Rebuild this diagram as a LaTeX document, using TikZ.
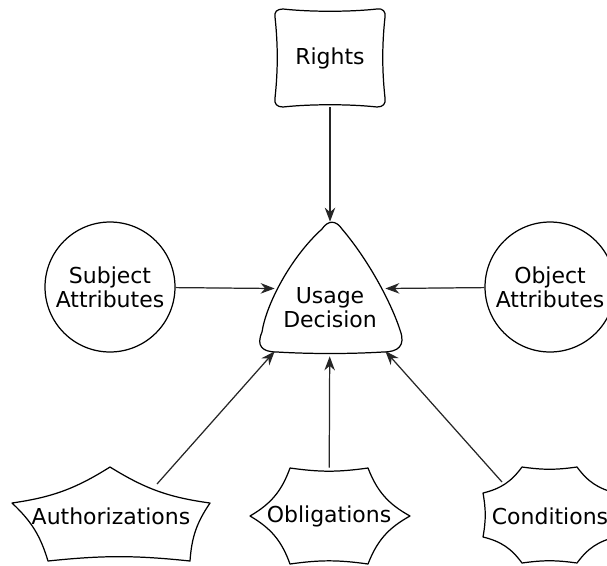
\documentclass[tikz,border=0pt]{standalone}
\usepackage{fontspec}
\setmainfont{DejaVu Sans}
\usepackage{tikz}
\usetikzlibrary{positioning, arrows.meta}
\tikzstyle{textNode}=[align=center, inner sep=0pt, font=\fontsize{12.5}{13.5}\selectfont]
\tikzstyle{attrNode}=[textNode, draw, circle, line width=0.7pt, minimum size=2.6cm]
\tikzstyle{outline}=[line width=0.7pt, line join=round]
\tikzstyle{flowTransition}=[-{Stealth[length=8pt,width=6pt]}, line width=0.7pt, draw=black!85, fill=black!85]

\begin{document}
\begin{tikzpicture}[x=0.02cm, y=-0.02cm]
  \useasboundingbox (0,0) rectangle (607,565);
  \clip (0,0) rectangle (607,565);

  % rights
  \node[textNode, minimum width=2.2cm, minimum height=1.96cm] (rights) at (330,58) {Rights};
  \draw[outline] (283,9) .. controls (310,12) and (350,12) .. (377,9)
    .. controls (383,8) and (386,12) .. (385,17)
    .. controls (382,45) and (382,70) .. (385,98)
    .. controls (386,104) and (383,107) .. (377,107)
    .. controls (350,104) and (310,104) .. (283,107)
    .. controls (277,107) and (274,104) .. (275,98)
    .. controls (278,70) and (278,45) .. (275,17)
    .. controls (274,12) and (277,9) .. (283,9) -- cycle;

  % usage decision
  \node[minimum width=2.2cm, minimum height=2.68cm, inner sep=0pt,
    label={[textNode, yshift=-0.38cm]center:Usage\\Decision}] (usage) at (330,289) {};
  \draw[outline] (262,332) .. controls (266,305) and (290,258) .. (322,229)
    .. controls (328,220) and (336,220) .. (342,229)
    .. controls (370,262) and (392,305) .. (400,330)
    .. controls (406,346) and (398,352) .. (383,352)
    .. controls (350,354) and (310,354) .. (277,352)
    .. controls (262,352) and (256,346) .. (262,332) -- cycle;

  % attributes
  \node[attrNode] (subj) at (110,287) {Subject\\Attributes};
  \node[attrNode] (obj) at (550,287) {Object\\Attributes};

  % authorizations
  \node[textNode] (auth) at (111,516) {Authorizations};
  \draw[outline] (110,467) to[bend right=12] (210,503) to[bend right=15] (190,561)
    to[bend right=6] (48,561) to[bend right=15] (12,503) to[bend right=12] cycle;
  \coordinate (authEdge) at (157,484);

  % obligations
  \node[textNode, minimum height=1.92cm] (oblig) at (329,516) {Obligations};
  \draw[outline] (290,468) to[bend right=8] (368,468) to[bend right=20] (410,516)
    to[bend right=20] (368,564) to[bend right=8] (290,564) to[bend right=20] (250,516)
    to[bend right=20] cycle;

  % conditions
  \node[textNode] (cond) at (550,516) {Conditions};
  \draw[outline] (522,467) to[bend right=8] (577,467) to[bend right=20] (616,493)
    to[bend right=10] (616,537) to[bend right=20] (577,563) to[bend right=8] (522,563)
    to[bend right=20] (483,537) to[bend right=10] (483,493) to[bend right=20] cycle;
  \coordinate (condEdge) at (502,482);

  \draw[flowTransition] (rights) -- (usage);
  \draw[flowTransition] (subj) -- (usage);
  \draw[flowTransition] (obj) -- (usage);
  \draw[flowTransition] (authEdge) -- (usage);
  \draw[flowTransition] (oblig) -- (usage);
  \draw[flowTransition] (condEdge) -- (usage);
\end{tikzpicture}
\end{document}
